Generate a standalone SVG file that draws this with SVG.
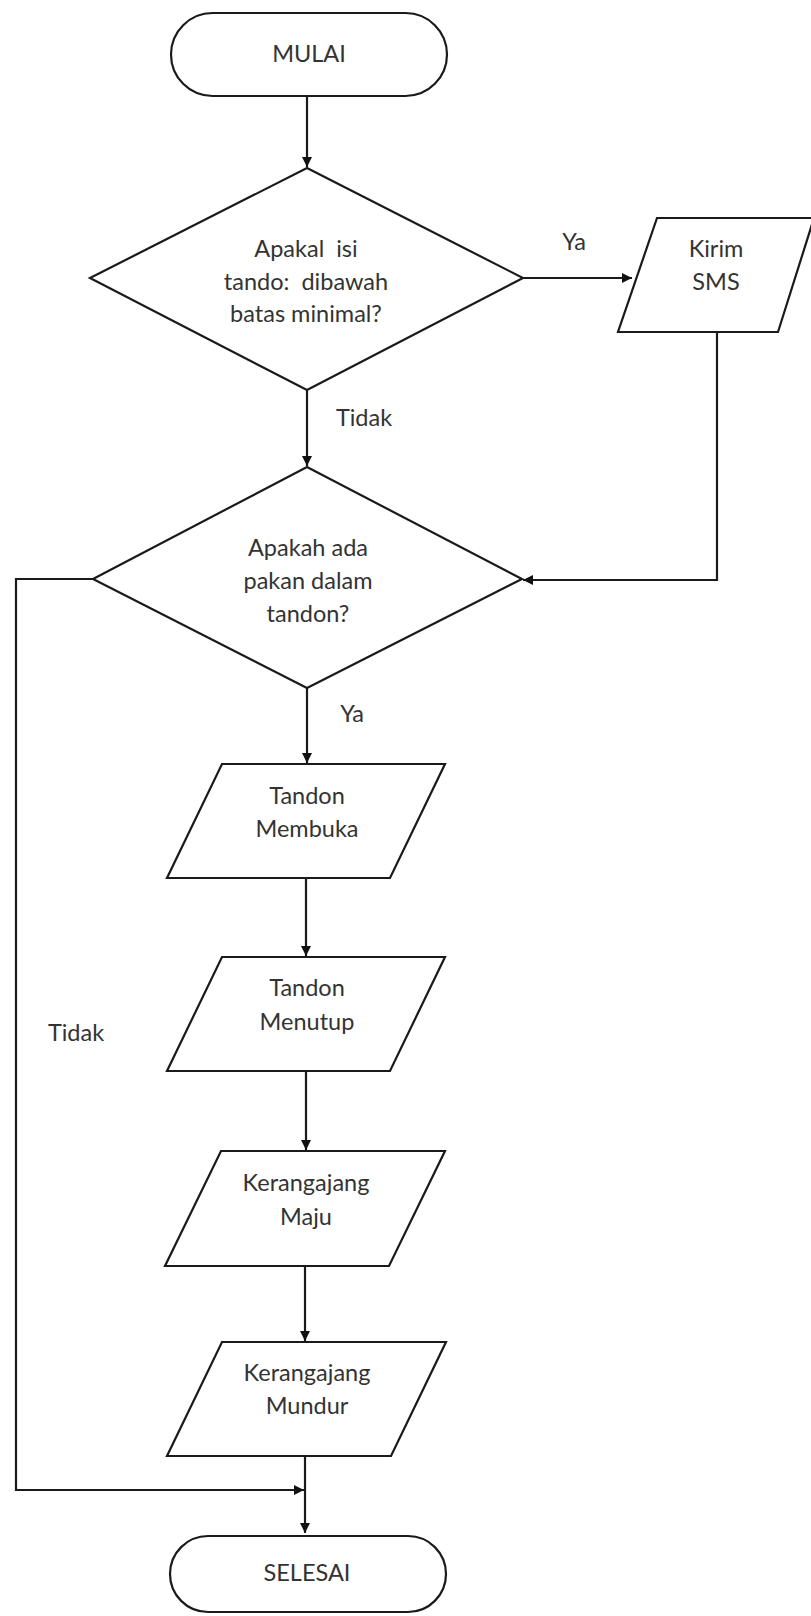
<svg xmlns="http://www.w3.org/2000/svg" width="811" height="1616" viewBox="0 0 811 1616">
<defs>
<marker id="arr" viewBox="0 0 10 10" refX="10" refY="5" markerWidth="11" markerHeight="10" markerUnits="userSpaceOnUse" orient="auto">
<path d="M0,0 L10,5 L0,10 z" fill="#111"/>
</marker>
<style>
.s{fill:#fff;stroke:#1a1a1a;stroke-width:2.2}
.c{fill:none;stroke:#1a1a1a;stroke-width:2.2}
.t{font-family:Lato,"Liberation Sans",sans-serif;font-size:23.5px;fill:#333;text-anchor:middle;white-space:pre}
</style>
</defs>
<rect width="811" height="1616" fill="#fff"/>
<g id="connectors">
<line class="c" x1="307" y1="96" x2="307" y2="167" marker-end="url(#arr)"/>
<line class="c" x1="523" y1="278" x2="632" y2="278" marker-end="url(#arr)"/>
<line class="c" x1="307" y1="390" x2="307" y2="466" marker-end="url(#arr)"/>
<polyline class="c" points="717,332 717,580 523,580" marker-end="url(#arr)"/>
<line class="c" x1="307" y1="688" x2="307" y2="763" marker-end="url(#arr)"/>
<line class="c" x1="306" y1="878" x2="306" y2="956" marker-end="url(#arr)"/>
<line class="c" x1="306" y1="1071" x2="306" y2="1150" marker-end="url(#arr)"/>
<line class="c" x1="305" y1="1266" x2="305" y2="1341" marker-end="url(#arr)"/>
<line class="c" x1="305" y1="1456" x2="305" y2="1533" marker-end="url(#arr)"/>
<polyline class="c" points="93,579 16,579 16,1490 304,1490" marker-end="url(#arr)"/>
<text class="t" x="574" y="250">Ya</text>
<text class="t" x="364" y="426">Tidak</text>
<text class="t" x="352" y="722">Ya</text>
<text class="t" x="76" y="1041">Tidak</text>
</g>
<g id="mulai">
<rect class="s" x="171" y="13" width="276" height="83" rx="41.5"/>
<text class="t" x="309" y="62">MULAI</text>
</g>
<g id="cek-isi">
<polygon class="s" points="307,168 523,278 307,390 90,278"/>
<text class="t" x="306" y="257" xml:space="preserve">Apakal  isi</text>
<text class="t" x="306" y="290" xml:space="preserve">tando:  dibawah</text>
<text class="t" x="306" y="322">batas minimal?</text>
</g>
<g id="kirim-sms">
<polygon class="s" points="657,218 814,218 778,332 618,332"/>
<text class="t" x="716" y="257">Kirim</text>
<text class="t" x="716" y="290">SMS</text>
</g>
<g id="cek-pakan">
<polygon class="s" points="307,467 522,579 307,688 93,579"/>
<text class="t" x="308" y="556">Apakah ada</text>
<text class="t" x="308" y="589">pakan dalam</text>
<text class="t" x="308" y="622">tandon?</text>
</g>
<g id="tandon-membuka">
<polygon class="s" points="222,764 445,764 390,878 167,878"/>
<text class="t" x="307" y="804">Tandon</text>
<text class="t" x="307" y="837">Membuka</text>
</g>
<g id="tandon-menutup">
<polygon class="s" points="222,957 445,957 390,1071 167,1071"/>
<text class="t" x="307" y="996">Tandon</text>
<text class="t" x="307" y="1030">Menutup</text>
</g>
<g id="keranjang-maju">
<polygon class="s" points="221,1151 445,1151 389,1266 165,1266"/>
<text class="t" x="306" y="1191">Kerangajang</text>
<text class="t" x="306" y="1225">Maju</text>
</g>
<g id="keranjang-mundur">
<polygon class="s" points="222,1342 446,1342 391,1456 167,1456"/>
<text class="t" x="307" y="1381">Kerangajang</text>
<text class="t" x="307" y="1414">Mundur</text>
</g>
<g id="selesai">
<rect class="s" x="170" y="1536" width="276" height="76" rx="38"/>
<text class="t" x="307" y="1581">SELESAI</text>
</g>
</svg>
